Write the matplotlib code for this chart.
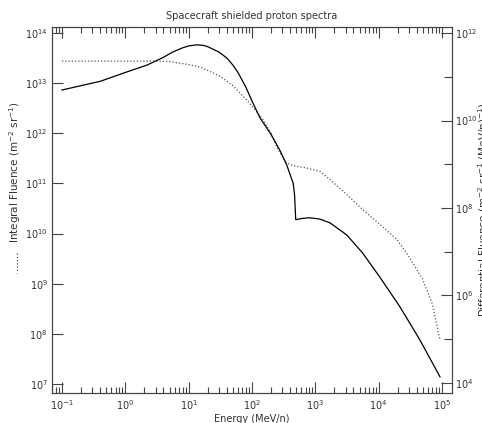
import numpy as np
import matplotlib
matplotlib.use('Agg')
import matplotlib.pyplot as plt
import matplotlib.ticker as mticker
from matplotlib.lines import Line2D

# Integral fluence (dotted, left axis)
E_int = [0.1, 1, 3, 5, 10, 15, 20, 31, 50, 80, 100, 148, 200, 250, 331, 400,
         500, 700, 1170, 1700, 3000, 5600, 1.0e4, 1.95e4, 3.0e4, 5.0e4, 7.0e4, 9.3e4]
F_int = [2.75e13, 2.75e13, 2.75e13, 2.7e13, 2.35e13, 2.1e13, 1.8e13, 1.38e13,
         8.9e12, 4.8e12, 3.5e12, 1.9e12, 1.0e12, 5.2e11, 2.75e11, 2.35e11,
         2.2e11, 2.05e11, 1.75e11, 1.2e11, 6.3e10, 3.0e10, 1.6e10, 7.6e9,
         3.5e9, 1.2e9, 4.0e8, 7.6e7]

# Differential fluence (solid, right axis)
E_diff = [0.1, 0.2, 0.4, 0.7, 1.0, 2.2, 4, 5.6, 8, 10, 13.5, 17, 20, 30, 40,
          50, 60, 80, 100, 134, 200, 275, 350, 447, 470, 490, 600, 800, 1170,
          1700, 3160, 5600, 1.05e4, 2.17e4, 4.5e4, 9.3e4]
F_diff = [5.0e10, 6.3e10, 7.9e10, 1.05e11, 1.26e11, 1.86e11, 2.8e11, 3.7e11,
          4.6e11, 5.1e11, 5.4e11, 5.25e11, 4.9e11, 3.7e11, 2.7e11, 1.85e11,
          1.26e11, 5.8e10, 2.8e10, 1.15e10, 4.8e9, 2.1e9, 1.0e9, 3.7e8, 2.0e8,
          5.4e7, 5.75e7, 6.0e7, 5.6e7, 4.6e7, 2.4e7, 9.3e6, 2.6e6, 5.5e5,
          9.5e4, 1.38e4]

W, H = 482, 423
fig = plt.figure(figsize=(W / 100, H / 100), dpi=100)
ax = fig.add_axes([52 / W, 30 / H, 400 / W, 366 / H])
ax2 = ax.twinx()

txt = '#333333'
fs = 7
fl = 7.5

ax.plot(E_int, F_int, color='#555555', linestyle=(0, (1, 1.6)), linewidth=0.9)
ax2.plot(E_diff, F_diff, color='black', linewidth=0.9)

for a in (ax, ax2):
    a.set_xscale('log')
    a.set_yscale('log')
    for s in a.spines.values():
        s.set_linewidth(0.8)
        s.set_color('#444444')

ax.set_xlim(10 ** -1.158, 10 ** 5.158)
ax.set_ylim(10 ** 6.82, 10 ** 14.12)
ax2.set_ylim(10 ** 3.77, 10 ** 12.14)

ax.xaxis.set_major_locator(mticker.FixedLocator([10.0 ** k for k in range(-1, 6)]))
ax.xaxis.set_minor_locator(mticker.LogLocator(base=10, subs=np.arange(2, 10), numticks=20))
ax.xaxis.set_minor_formatter(mticker.NullFormatter())
ax.yaxis.set_major_locator(mticker.FixedLocator([10.0 ** k for k in range(7, 15)]))
ax.yaxis.set_minor_locator(mticker.NullLocator())
ax2.yaxis.set_major_locator(mticker.FixedLocator([10.0 ** k for k in range(4, 13, 2)]))
ax2.yaxis.set_minor_locator(mticker.FixedLocator([10.0 ** k for k in range(5, 13, 2)]))
ax2.yaxis.set_minor_formatter(mticker.NullFormatter())

ax.tick_params(which='both', direction='in', top=True, right=False,
               labelsize=fs, colors='#444444', labelcolor=txt, width=0.8)
ax.tick_params(which='major', length=8)
ax.tick_params(which='minor', length=4)
ax.tick_params(axis='y', which='major', length=8, pad=3)
ax2.tick_params(which='both', direction='in', labelsize=fs, colors='#444444',
                labelcolor=txt, width=0.8)
ax2.tick_params(which='major', length=8, pad=2)
ax2.tick_params(which='minor', length=6)

ax.set_xlabel('Energy (MeV/n)', fontsize=fs, color=txt, labelpad=2)
ax.set_title('Spacecraft shielded proton spectra', fontsize=fs, color=txt, pad=6)

# left axis title with dotted key
fig.text(15 / W, 1 - 172 / H, 'Integral Fluence (m$^{-2}$ sr$^{-1}$)', rotation=90,
         ha='center', va='center', fontsize=fl, color=txt)
fig.add_artist(Line2D([17 / W, 17 / W], [1 - 253 / H, 1 - 273 / H],
                      color='#555555', linestyle=(0, (1, 1.6)), linewidth=0.9))

# right axis title, partly cut off at the edge (as in the original)
fig.text(484 / W, 1 - 210 / H,
         'Differential Fluence (m$^{-2}$ sr$^{-1}$ (MeV/n)$^{-1}$)', rotation=90,
         ha='center', va='center', fontsize=fl, color=txt)

fig.savefig('out.png', dpi=100)
